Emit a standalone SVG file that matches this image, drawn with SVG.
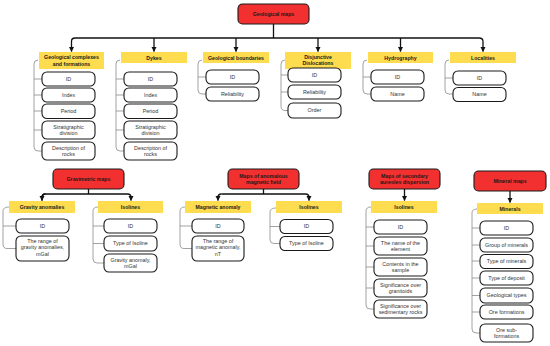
<svg xmlns="http://www.w3.org/2000/svg" width="550" height="346" viewBox="0 0 550 346">
<defs>
<style>
.red{fill:#f2302f;stroke:#1a1a1a;stroke-width:1.1}
.yel{fill:#fddc4f;stroke:none}
.box{fill:#fff;stroke:#1a1a1a;stroke-width:1.1}
.tb{font-family:"Liberation Sans",Arial,sans-serif;font-size:5.2px;font-weight:bold;fill:#1a1a1a;text-anchor:middle}
.tr{font-family:"Liberation Sans",Arial,sans-serif;font-size:5.4px;fill:#333;text-anchor:middle}
.conn{fill:none;stroke:#111;stroke-width:1.3}
.br{fill:none;stroke:#8a8a8a;stroke-width:0.8}
</style>
<marker id="ah" viewBox="0 0 10 10" refX="9" refY="5" markerWidth="5.5" markerHeight="5.5" orient="auto" markerUnits="userSpaceOnUse">
<path d="M0,0 L10,5 L0,10 z" fill="#111"/>
</marker>
</defs>
<rect width="550" height="346" fill="#fff"/>

<g id="connectors">
<!-- top -->
<path class="conn" d="M273.5,24 V38"/>
<path class="conn" d="M75,38 H479"/>
<path class="conn" d="M75,38 Q71.5,38 71.5,41.5 V51.5" marker-end="url(#ah)"/>
<path class="conn" d="M479,38 Q483,38 483,41.5 V51.5" marker-end="url(#ah)"/>
<path class="conn" d="M154,38 V51.5" marker-end="url(#ah)"/>
<path class="conn" d="M236,38 V51.5" marker-end="url(#ah)"/>
<path class="conn" d="M318,38 V51.5" marker-end="url(#ah)"/>
<path class="conn" d="M400.5,38 V51.5" marker-end="url(#ah)"/>
<!-- gravimetric -->
<path class="conn" d="M88.5,189 V194"/>
<path class="conn" d="M42,200.5 V197.5 Q42,194 45.5,194 H127.5 Q131,194 131,197.5 V200.5" marker-end="url(#ah)"/>
<path class="conn" d="M45.5,194 Q42,194 42,197.5 V200.5" marker-end="url(#ah)"/>
<!-- magnetic -->
<path class="conn" d="M263.5,189 V194"/>
<path class="conn" d="M221.5,194 H305.5 Q309,194 309,197.5 V200.5" marker-end="url(#ah)"/>
<path class="conn" d="M221.5,194 Q218,194 218,197.5 V200.5" marker-end="url(#ah)"/>
<!-- secondary -->
<path class="conn" d="M404.5,189 V200.5" marker-end="url(#ah)"/>
<!-- mineral -->
<path class="conn" d="M510,191 V202.5" marker-end="url(#ah)"/>

<!-- brackets -->
<path class="br" d="M38,60 Q34,60 34,64 V147 Q34,151 38,151 H42 M34,79 H42 M34,95 H42 M34,111 H42 M34,130 H42"/>
<path class="br" d="M120,60 Q116,60 116,64 V147 Q116,151 120,151 H124 M116,79 H124 M116,95 H124 M116,111 H124 M116,130 H124"/>
<path class="br" d="M202,60 Q198,60 198,64 V90 Q198,94 202,94 H206 M198,77 H206"/>
<path class="br" d="M285,60 Q281,60 281,64 V106 Q281,110.5 285,110.5 H288 M281,75 H288 M281,92 H288"/>
<path class="br" d="M367,60 Q363,60 363,64 V90 Q363,94 367,94 H371 M363,77 H371"/>
<path class="br" d="M449,60 Q445,60 445,64 V90 Q445,94 449,94 H453 M445,78 H453"/>
<path class="br" d="M9,207 Q3,207 3,211 V244 Q3,248.5 7,248.5 H16 M3,226 H16"/>
<path class="br" d="M98,207 Q93,207 93,211 V259 Q93,263 97,263 H104 M93,226 H104 M93,243.5 H104"/>
<path class="br" d="M185,207 Q180,207 180,211 V244 Q180,248.5 184,248.5 H192 M180,226 H192"/>
<path class="br" d="M276,208 Q270,208 270,212 V240 Q270,243.5 274,243.5 H280 M270,226.5 H280"/>
<path class="br" d="M371,207 Q366,207 366,211 V305 Q366,309 370,309 H374 M366,227 H374 M366,246 H374 M366,267 H374 M366,288 H374"/>
<path class="br" d="M477,209 Q472,209 472,213 V329 Q472,333 476,333 H480 M472,228 H480 M472,245 H480 M472,261 H480 M472,278 H480 M472,295.5 H480 M472,312 H480"/>
</g>

<g id="root"><rect class="red" x="238" y="4" width="71" height="20" rx="4.5"/><text class="tb" x="273.5" y="15.8">Geological maps</text></g>

<g id="geo-complexes">
<rect class="yel" x="39" y="52" width="65" height="17"/>
<text class="tb" x="71.5" y="59">Geological complexes</text><text class="tb" x="71.5" y="65.5">and formations</text>
<rect class="box" x="42" y="72" width="53" height="14" rx="5"/><text class="tr" x="68.5" y="80.8">ID</text>
<rect class="box" x="42" y="88" width="53" height="14" rx="5"/><text class="tr" x="68.5" y="96.8">Index</text>
<rect class="box" x="42" y="104" width="53" height="14.5" rx="5"/><text class="tr" x="68.5" y="113">Period</text>
<rect class="box" x="42" y="121" width="53" height="18" rx="5"/><text class="tr" x="68.5" y="128.5">Stratigraphic</text><text class="tr" x="68.5" y="135">division</text>
<rect class="box" x="42" y="142" width="53" height="18" rx="5"/><text class="tr" x="68.5" y="149.5">Description of</text><text class="tr" x="68.5" y="156">rocks</text>
</g>

<g id="dykes">
<rect class="yel" x="121" y="52" width="66" height="11"/>
<text class="tb" x="154" y="59.5">Dykes</text>
<rect class="box" x="124" y="72" width="53" height="14" rx="5"/><text class="tr" x="150.5" y="80.8">ID</text>
<rect class="box" x="124" y="88" width="53" height="14" rx="5"/><text class="tr" x="150.5" y="96.8">Index</text>
<rect class="box" x="124" y="104" width="53" height="14.5" rx="5"/><text class="tr" x="150.5" y="113">Period</text>
<rect class="box" x="124" y="121" width="53" height="18" rx="5"/><text class="tr" x="150.5" y="128.5">Stratigraphic</text><text class="tr" x="150.5" y="135">division</text>
<rect class="box" x="124" y="142" width="53" height="18" rx="5"/><text class="tr" x="150.5" y="149.5">Description of</text><text class="tr" x="150.5" y="156">rocks</text>
</g>

<g id="geo-boundaries">
<rect class="yel" x="203" y="52" width="66" height="11"/>
<text class="tb" x="236" y="59.5">Geological boundaries</text>
<rect class="box" x="206" y="70" width="53" height="14" rx="5"/><text class="tr" x="232.5" y="78.8">ID</text>
<rect class="box" x="206" y="87" width="53" height="14" rx="5"/><text class="tr" x="232.5" y="95.8">Reliability</text>
</g>

<g id="disjunctive">
<rect class="yel" x="285" y="52" width="66" height="17"/>
<text class="tb" x="318" y="58.5">Disjunctive</text><text class="tb" x="318" y="65">Dislocations</text>
<rect class="box" x="288" y="68" width="53" height="14" rx="5"/><text class="tr" x="314.5" y="76.8">ID</text>
<rect class="box" x="288" y="85" width="53" height="14" rx="5"/><text class="tr" x="314.5" y="93.8">Reliability</text>
<rect class="box" x="288" y="103" width="53" height="15" rx="5"/><text class="tr" x="314.5" y="112.3">Order</text>
</g>

<g id="hydrography">
<rect class="yel" x="368" y="52" width="65" height="11"/>
<text class="tb" x="400.5" y="59.5">Hydrography</text>
<rect class="box" x="371" y="70" width="53" height="14" rx="5"/><text class="tr" x="397.5" y="78.8">ID</text>
<rect class="box" x="371" y="87" width="53" height="14" rx="5"/><text class="tr" x="397.5" y="95.8">Name</text>
</g>

<g id="localities">
<rect class="yel" x="450" y="52" width="66" height="11"/>
<text class="tb" x="483" y="59.5">Localities</text>
<rect class="box" x="453" y="71" width="53" height="14" rx="5"/><text class="tr" x="479.5" y="79.8">ID</text>
<rect class="box" x="453" y="87.5" width="53" height="14" rx="5"/><text class="tr" x="479.5" y="96.3">Name</text>
</g>

<g id="gravimetric">
<rect class="red" x="53" y="169" width="71" height="20" rx="4.5"/><text class="tb" x="88.5" y="180.8">Gravimetric maps</text>
<rect class="yel" x="9" y="201" width="66" height="12"/><text class="tb" x="42" y="208.8">Gravity anomalies</text>
<rect class="box" x="16" y="219" width="53" height="14" rx="5"/><text class="tr" x="42.5" y="227.8">ID</text>
<rect class="box" x="16" y="236" width="53" height="25" rx="5"/><text class="tr" x="42.5" y="242.8">The range of</text><text class="tr" x="42.5" y="249.3">gravity anomalies,</text><text class="tr" x="42.5" y="255.8">mGal</text>
<rect class="yel" x="98" y="201" width="65" height="12"/><text class="tb" x="130.5" y="208.8">Isolines</text>
<rect class="box" x="104" y="219" width="53" height="14" rx="5"/><text class="tr" x="130.5" y="227.8">ID</text>
<rect class="box" x="104" y="236" width="53" height="15" rx="5"/><text class="tr" x="130.5" y="245.3">Type of Isoline</text>
<rect class="box" x="104" y="254" width="53" height="18" rx="5"/><text class="tr" x="130.5" y="261.5">Gravity anomaly,</text><text class="tr" x="130.5" y="268">mGal</text>
</g>

<g id="magnetic">
<rect class="red" x="228" y="169" width="71" height="20" rx="4.5"/><text class="tb" x="263.5" y="177.5">Maps of anomalous</text><text class="tb" x="263.5" y="184">magnetic field</text>
<rect class="yel" x="185" y="201" width="66" height="12"/><text class="tb" x="218" y="208.8">Magnetic anomaly</text>
<rect class="box" x="192" y="219" width="52" height="14" rx="5"/><text class="tr" x="218" y="227.8">ID</text>
<rect class="box" x="192" y="236" width="52" height="25" rx="5"/><text class="tr" x="218" y="242.8">The range of</text><text class="tr" x="218" y="249.3">magnetic anomaly,</text><text class="tr" x="218" y="255.8">nT</text>
<rect class="yel" x="276" y="201" width="66" height="12"/><text class="tb" x="309" y="208.8">Isolines</text>
<rect class="box" x="280" y="219.5" width="53" height="14" rx="5"/><text class="tr" x="306.5" y="228.3">ID</text>
<rect class="box" x="280" y="236.5" width="53" height="14" rx="5"/><text class="tr" x="306.5" y="245.3">Type of Isoline</text>
</g>

<g id="secondary">
<rect class="red" x="369" y="169" width="71" height="20" rx="4.5"/><text class="tb" x="404.5" y="177.5">Maps of secondary</text><text class="tb" x="404.5" y="184">aureoles dispersion</text>
<rect class="yel" x="371" y="201" width="66" height="12"/><text class="tb" x="404" y="208.8">Isolines</text>
<rect class="box" x="374" y="220" width="53" height="14" rx="5"/><text class="tr" x="400.5" y="228.8">ID</text>
<rect class="box" x="374" y="237" width="53" height="18" rx="5"/><text class="tr" x="400.5" y="244.5">The name of the</text><text class="tr" x="400.5" y="251">element</text>
<rect class="box" x="374" y="258" width="53" height="18" rx="5"/><text class="tr" x="400.5" y="265.5">Contents in the</text><text class="tr" x="400.5" y="272">sample</text>
<rect class="box" x="374" y="279" width="53" height="18" rx="5"/><text class="tr" x="400.5" y="286.5">Significance over</text><text class="tr" x="400.5" y="293">granitoids</text>
<rect class="box" x="374" y="300" width="53" height="18" rx="5"/><text class="tr" x="400.5" y="307.5">Significance over</text><text class="tr" x="400.5" y="314">sedimentary rocks</text>
</g>

<g id="mineral">
<rect class="red" x="474" y="171" width="72" height="20" rx="4.5"/><text class="tb" x="510" y="182.8">Mineral maps</text>
<rect class="yel" x="477" y="203" width="66" height="11"/><text class="tb" x="510" y="210.5">Minerals</text>
<rect class="box" x="480" y="221" width="53" height="14" rx="5"/><text class="tr" x="506.5" y="229.8">ID</text>
<rect class="box" x="480" y="238" width="53" height="14" rx="5"/><text class="tr" x="506.5" y="246.8">Group of minerals</text>
<rect class="box" x="480" y="254.5" width="53" height="14" rx="5"/><text class="tr" x="506.5" y="263.3">Type of minerals</text>
<rect class="box" x="480" y="271" width="53" height="14" rx="5"/><text class="tr" x="506.5" y="279.8">Type of deposit</text>
<rect class="box" x="480" y="288" width="53" height="15" rx="5"/><text class="tr" x="506.5" y="297.3">Geological types</text>
<rect class="box" x="480" y="305" width="53" height="14" rx="5"/><text class="tr" x="506.5" y="313.8">Ore formations</text>
<rect class="box" x="480" y="324" width="53" height="18" rx="5"/><text class="tr" x="506.5" y="331.5">Ore sub-</text><text class="tr" x="506.5" y="338">formations</text>
</g>
</svg>
